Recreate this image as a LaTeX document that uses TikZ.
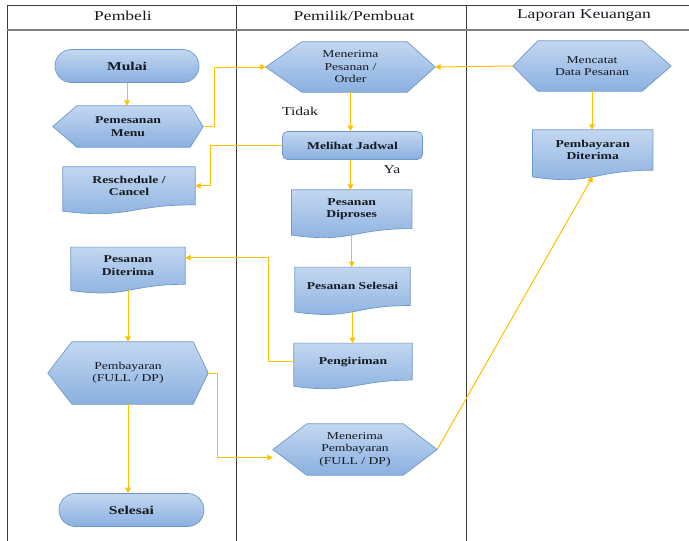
\documentclass[tikz,border=0pt]{standalone}
\usepackage{fontspec}
\setmainfont[FakeStretch=1.3]{Liberation Serif}
\usetikzlibrary{shapes.misc,calc,arrows.meta}
\pgfdeclarelayer{background}
\pgfsetlayers{background,main}
\definecolor{shTop}{HTML}{C3D7F0}
\definecolor{shBot}{HTML}{8AB0E0}
\definecolor{shLine}{HTML}{6E98CB}
\definecolor{arrowc}{HTML}{FFC000}
\definecolor{gridc}{HTML}{3A3A3A}
\definecolor{txtc}{HTML}{151A22}
\tikzset{
  shfill/.style={top color=shTop, bottom color=shBot, draw=shLine, line width=0.7pt},
  txt/.style={align=center, text=txtc, inner sep=0pt, font=\fontsize{10.5}{12.5}\selectfont},
  btxt/.style={txt, font=\fontsize{10.5}{12.5}\selectfont\bfseries},
  stadium/.style={rounded rectangle, shfill, txt, font=\fontsize{12}{14}\selectfont\bfseries, minimum height=33pt},
  hexbox/.style={txt},
  docbox/.style={btxt},
  roundbox/.style={rectangle, rounded corners=5pt, shfill, btxt},
  flow/.style={draw=arrowc, line width=1pt, -{Triangle[length=5.5pt,width=5.5pt]}},
  lanel/.style={draw=gridc, line width=1pt},
  hdr/.style={text=txtc, inner sep=0pt, font=\fontsize{13.5}{15}\selectfont},
  lbl/.style={text=txtc, inner sep=0pt, font=\fontsize{12}{14}\selectfont}
}
\newcommand\hexshape[3]{%
  \begin{pgfonlayer}{background}
  \path[shfill] (#1.west) -- ($(#1.north west)+(#2pt,0)$) -- ($(#1.north east)+(-#3pt,0)$) -- (#1.east)
    -- ($(#1.south east)+(-#3pt,0)$) -- ($(#1.south west)+(#2pt,0)$) -- cycle;
  \end{pgfonlayer}}
\newcommand\docshape[1]{%
  \begin{pgfonlayer}{background}
  \path[shfill] let \p1=($(#1.north)-(#1.south)$) in
    (#1.north west) -- (#1.north east) -- (#1.south east)
    .. controls (#1.south) and ($(#1.south)+(0,-0.384*\y1)$) ..
    ($(#1.south west)+(0,-0.1675*\y1)$) -- cycle;
  \path let \p1=($(#1.north)-(#1.south)$) in coordinate (#1-b) at ($(#1.south)+(0,-0.16*\y1)$);
  \end{pgfonlayer}}
\begin{document}
\begin{tikzpicture}[x=1pt,y=-1pt]
\useasboundingbox (0,0) rectangle (689,541);
% swimlanes
\draw[lanel] (7,541) -- (7,5) -- (689,5);
\draw[lanel] (236.5,5) -- (236.5,541);
\draw[lanel] (466.5,5) -- (466.5,541);
\draw[draw=gray, line width=1.6pt] (7,30) -- (689,30);
\node[hdr] (h1) at (123,16) {Pembeli};
\node[hdr] (h2) at (354,16) {Pemilik/Pembuat};
\node[hdr] (h3) at (584,16) {Laporan Keuangan};
% Pembeli
\node[stadium, minimum width=144pt] (mulai) at (127,66) {Mulai};
\node[hexbox, btxt, minimum width=150pt, minimum height=41pt] (pm) at (128,126.5) {Pemesanan\\Menu};
\hexshape{pm}{24}{13}
\node[docbox, minimum width=132pt, minimum height=37.6pt] (rc) at (129,185.8) {Reschedule /\\Cancel};
\docshape{rc}
\node[docbox, minimum width=114pt, minimum height=36.8pt] (pdt) at (128,265.7) {Pesanan\\Diterima};
\docshape{pdt}
\node[hexbox, minimum width=160pt, minimum height=62pt] (pb) at (128,373) {Pembayaran\\(FULL / DP)};
\hexshape{pb}{24}{15}
\node[stadium, minimum width=145pt] (sel) at (131.5,510) {Selesai};
% Pemilik/Pembuat
\node[hexbox, minimum width=169pt, minimum height=50pt] (mp) at (350.5,67) {Menerima\\Pesanan /\\Order};
\hexshape{mp}{36}{28}
\node[roundbox, minimum width=140pt, minimum height=28pt] (mj) at (352.5,145.5) {Melihat Jadwal};
\node[docbox, minimum width=120pt, minimum height=38.4pt] (pdp) at (351.7,209.2) {Pesanan\\Diproses};
\docshape{pdp}
\node[docbox, minimum width=115pt, minimum height=38pt] (ps) at (352.5,286.3) {Pesanan Selesai};
\docshape{ps}
\node[docbox, minimum width=118pt, minimum height=36.6pt] (pg) at (353,361.6) {Pengiriman};
\docshape{pg}
\node[hexbox, minimum width=164pt, minimum height=51pt] (mb) at (355,449.5) {Menerima\\Pembayaran\\(FULL / DP)};
\hexshape{mb}{34}{34}
\node[lbl] (tidak) at (300,111) {Tidak};
\node[lbl] (ya) at (392,170) {Ya};
% Laporan Keuangan
\node[hexbox, minimum width=158pt, minimum height=50pt] (md) at (592,66) {Mencatat\\Data Pesanan};
\hexshape{md}{25}{29}
\node[docbox, minimum width=120pt, minimum height=40pt] (pbd) at (592.7,150) {Pembayaran\\Diterima};
\docshape{pbd}
% connectors
\draw[flow] (mulai.south) -- (mulai.south |- pm.north);
\draw[flow] (pm.east) -- ++(11,0) |- (mp.west);
\draw[flow] (mj.west) -- ++(-71.5,0) |- (rc.east);
\draw[flow] (mp.south) -- (mp.south |- mj.north);
\draw[flow] (mp.south |- mj.south) -- (mp.south |- pdp.north);
\draw[flow] (pdp-b) -- (pdp-b |- ps.north);
\draw[flow] (ps-b) -- (ps-b |- pg.north);
\draw[flow] (pg.west) -- ++(-25,0) |- ($(pdt.east)+(0,8pt)$);
\draw[flow] (pdt-b) -- (pdt-b |- pb.north);
\draw[flow] (pb.south) -- (pb.south |- sel.north);
\draw[flow] (pb.east) -- ++(9,0) |- ($(mb.west)+(0,-8pt)$);
\draw[flow] (mb.east) -- (pbd-b);
\draw[flow] (md.west) -- (mp.east);
\draw[flow] (md.south) -- (md.south |- pbd.north);
\end{tikzpicture}
\end{document}
